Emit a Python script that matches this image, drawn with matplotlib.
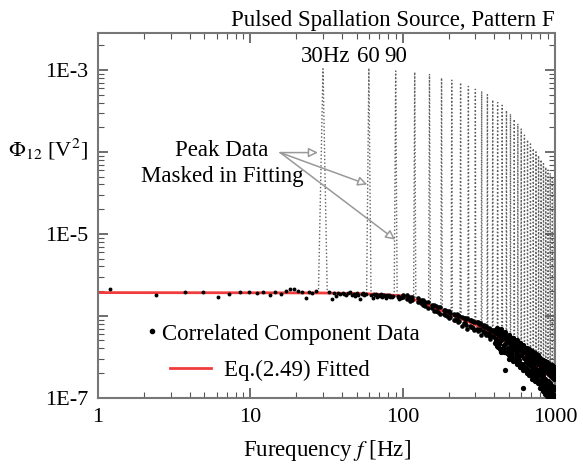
import matplotlib.pyplot as plt
from matplotlib.lines import Line2D

plt.rcParams['font.family'] = ['Liberation Serif', 'DejaVu Serif']
plt.rcParams['mathtext.fontset'] = 'stix'
plt.rcParams['font.size'] = 15

UNIT = 1e-7  # data values below are in units of 1E-7 V^2

# correlated component data, low frequencies
freq_lo = [1.2, 2.4, 3.7, 4.9, 6.1, 7.3, 8.5, 9.8, 11.0, 12.2, 13.4, 14.6, 15.9, 17.1,
           18.3, 19.5, 20.7, 22.0, 23.2, 24.4, 25.6, 26.9]
phi_lo = [21.0, 18.0, 19.8, 19.5, 16.8, 18.6, 19.6, 19.5, 19.2, 19.4, 18.2, 19.5, 18.4, 19.9,
          21.5, 21.2, 20.2, 19.4, 16.6, 19.6, 19.2, 20.0]

freq_ml = [32.9, 34.2, 35.4, 36.6, 37.8, 39.0, 40.3, 41.5, 42.7, 43.9, 45.1, 46.4, 47.6, 48.8,
           50.0, 51.2, 52.5, 53.7, 54.9, 56.1, 57.3, 62.2, 63.4, 64.7, 65.9, 67.1, 68.3, 69.5,
           70.8, 72.0, 73.2, 74.4, 75.6, 76.9, 78.1, 79.3, 80.5, 81.7, 83.0, 84.2, 85.4, 86.6,
           92.7, 93.9, 95.2, 96.4, 97.6, 98.8]
phi_ml = [19.8, 16.2, 18.9, 17.6, 19.2, 18.4, 19.0, 18.6, 17.9, 18.8, 19.3, 18.2, 18.7, 17.4,
          18.9, 18.1, 16.0, 18.5, 18.8, 17.7, 18.3, 17.9, 16.3, 18.4, 17.8, 18.6, 17.2, 18.0,
          17.5, 18.3, 16.9, 17.8, 18.1, 17.4, 16.6, 17.9, 17.3, 17.8, 16.9, 17.5, 17.0, 17.6,
          16.8, 17.4, 16.2, 17.1, 16.7, 17.0]

freq_mid = [101, 106, 111, 116, 126, 131, 136, 141, 146, 156, 161, 166, 171, 176, 186, 191,
            196, 201, 206, 216, 221, 226, 231, 236, 246, 251, 256, 261, 266, 276, 281, 286,
            291, 296, 306, 311, 316, 321, 326, 336, 341, 346, 351, 356, 366, 371, 376, 381,
            386, 396]
phi_mid_a = [16.8, 17.9, 15.2, 16.9, 14.6, 15.8, 13.4, 14.9, 12.6, 13.7, 11.5, 13.2, 12.8, 10.6,
             11.9, 10.2, 11.4, 9.4, 10.9, 8.8, 10.3, 9.1, 8.4, 9.9, 7.6, 9.5, 8.2, 9.2, 6.9, 8.8,
             7.4, 8.6, 7.1, 6.8, 8.3, 6.5, 7.9, 7.0, 5.9, 7.6, 6.4, 7.3, 5.8, 7.2, 6.0, 6.9, 5.2,
             6.6, 5.7, 5.5]
phi_mid_b = [18.0, 15.9, 17.2, 15.4, 16.3, 14.2, 15.5, 13.1, 14.6, 12.4, 13.6, 11.6, 11.1, 12.7,
             10.5, 11.8, 9.9, 11.3, 9.6, 10.6, 9.0, 10.4, 10.1, 8.6, 9.8, 8.1, 9.4, 7.8, 9.3, 7.6,
             8.9, 7.4, 8.7, 8.5, 7.0, 8.4, 6.8, 8.1, 7.9, 6.5, 7.7, 6.1, 7.5, 6.2, 7.2, 5.7, 7.0,
             5.6, 6.8, 6.4]

freq_hi = [404, 408, 412, 416,
           424, 428, 432, 436, 440, 444, 454, 458, 462, 466, 470, 474,
           484, 488, 492, 496, 500, 504, 514, 518, 522, 526, 530, 534,
           544, 548, 552, 556, 560, 564, 574, 578, 582, 586, 590, 594,
           604, 608, 612, 616, 620, 624, 634, 638, 642, 646, 650, 654,
           664, 668, 672, 676, 680, 684, 694, 698, 702, 706, 710, 714,
           724, 728, 732, 736, 740, 744, 754, 758, 762, 766, 770, 774,
           784, 788, 792, 796, 800, 804, 814, 818, 822, 826, 830, 834,
           844, 848, 852, 856, 860, 864, 874, 878, 882, 886, 890, 894,
           904, 908, 912, 916, 920, 924, 934, 938, 942, 946, 950, 954,
           964, 968, 972, 976, 980, 984, 994, 998]
phi_hi_a = [6.8, 4.9, 6.1, 4.3,
            6.4, 4.5, 5.8, 3.9, 6.9, 5.0, 5.9, 4.1, 5.3, 3.6, 6.3, 4.6,
            5.5, 3.7, 4.9, 3.3, 5.8, 4.2, 5.1, 3.4, 4.6, 3.0, 5.4, 3.9,
            4.8, 3.1, 4.3, 2.8, 5.0, 3.6, 4.5, 2.9, 4.0, 2.6, 4.7, 3.3,
            4.3, 2.6, 3.8, 2.4, 4.4, 3.1, 4.0, 2.4, 3.5, 2.2, 4.1, 2.9,
            3.8, 2.2, 3.3, 2.0, 3.9, 2.7, 3.6, 2.1, 3.1, 1.9, 3.7, 2.5,
            3.4, 1.9, 2.9, 1.7, 3.5, 2.3, 3.2, 1.8, 2.8, 1.6, 3.3, 2.2,
            3.0, 1.6, 2.6, 1.5, 3.1, 2.0, 2.8, 1.5, 2.4, 1.4, 2.9, 1.9,
            2.7, 1.4, 2.3, 1.3, 2.8, 1.7, 2.6, 1.3, 2.2, 1.2, 2.7, 1.6,
            2.5, 1.2, 2.1, 1.1, 2.6, 1.5, 2.4, 1.15, 2.0, 1.05, 2.5, 1.4,
            2.3, 1.1, 1.9, 1.0, 2.4, 1.35, 2.2, 1.05]
phi_hi_b = [4.6, 6.5, 5.2, 7.2,
            4.2, 6.1, 4.8, 6.6, 5.5, 3.6, 3.8, 5.6, 4.4, 6.1, 2.2, 5.2,
            3.5, 5.2, 4.0, 5.7, 3.0, 4.7, 3.2, 4.9, 3.7, 5.3, 2.8, 4.4,
            3.0, 4.5, 3.4, 4.9, 2.6, 4.1, 2.7, 4.2, 3.2, 4.6, 2.4, 3.8,
            2.5, 3.9, 1.3, 4.3, 2.2, 3.6, 2.3, 3.7, 2.7, 4.0, 2.0, 3.3,
            2.1, 3.5, 2.5, 3.7, 1.9, 3.1, 2.0, 3.3, 2.4, 3.5, 1.7, 2.9,
            1.8, 3.1, 2.2, 3.3, 1.6, 2.7, 1.7, 2.9, 2.0, 3.1, 1.5, 2.6,
            1.5, 2.7, 1.9, 2.9, 1.3, 2.4, 1.4, 2.6, 1.7, 2.7, 1.2, 2.2,
            1.3, 2.4, 1.6, 2.6, 1.1, 2.1, 1.2, 2.3, 1.5, 2.5, 1.05, 2.0,
            1.15, 2.2, 1.4, 2.4, 0.95, 1.9, 1.1, 2.1, 1.3, 2.3, 0.9, 1.8,
            1.05, 2.0, 1.25, 2.2, 0.85, 1.7, 1.0, 1.9]

# masked peaks at multiples of the 30 Hz pulse rate
peak_hz = [30, 60, 90, 120, 150, 180, 210, 240, 270, 300, 330, 360, 390, 420, 450, 480, 510,
           540, 570, 600, 630, 660, 690, 720, 750, 780, 810, 840, 870, 900, 930, 960, 990]
peak_phi = [1.03e-3, 1.05e-3, 9.7e-4, 9.4e-4, 8.9e-4, 8.0e-4, 7.5e-4, 7.0e-4, 6.3e-4, 5.8e-4,
            5.5e-4, 5.0e-4, 4.3e-4, 4.0e-4, 3.7e-4, 3.2e-4, 2.9e-4, 2.5e-4, 2.2e-4, 1.9e-4,
            1.6e-4, 1.4e-4, 1.25e-4, 1.1e-4, 1.0e-4, 9.0e-5, 8.0e-5, 7.2e-5, 6.5e-5, 6.0e-5,
            5.5e-5, 5.0e-5, 4.6e-5]
peak_base = [19.0, 18.5, 17.5, 16.0, 13.5, 11.5, 10.0, 9.0, 8.4, 7.8, 7.2, 6.6, 6.0, 5.4,
             5.0, 4.6, 4.2, 3.9, 3.7, 3.4, 3.2, 3.0, 2.8, 2.6, 2.5, 2.3, 2.1, 2.0, 1.9, 1.8,
             1.7, 1.6, 1.5]
PEAK_HALF_WIDTH = 2.0  # Hz

# Eq.(2.49) fitted curve
fit_hz = [1, 10, 30, 50, 70, 100, 130, 160, 200, 250, 300, 400, 500, 600, 700, 800, 900, 1000]
fit_phi = [19.2, 19.1, 19.0, 18.7, 18.3, 17.5, 15.0, 12.7, 10.6, 9.0, 7.8, 5.8, 4.5, 3.6,
           2.9, 2.3, 1.9, 1.6]

fig, ax = plt.subplots(figsize=(5.83, 4.68), dpi=100)
fig.subplots_adjust(left=0.168, right=0.952, bottom=0.150, top=0.929)

for f, top, base in zip(peak_hz, peak_phi, peak_base):
    ax.plot([f - PEAK_HALF_WIDTH, f, f + PEAK_HALF_WIDTH], [base * UNIT, top, base * UNIT],
            color='#606060', lw=1.0, linestyle=(0, (1, 1.6)), zorder=1)

ax.plot(fit_hz, [v * UNIT for v in fit_phi], color='#f03c3c', lw=2, zorder=2)

dot_kw = dict(linestyle='none', marker='o', color='black', mew=0, zorder=3)
ax.plot(freq_lo, [v * UNIT for v in phi_lo], ms=2.8, **dot_kw)
ax.plot(freq_ml, [v * UNIT for v in phi_ml], ms=2.8, **dot_kw)
for vals in (phi_mid_a, phi_mid_b):
    ax.plot(freq_mid, [v * UNIT for v in vals], ms=3.3, **dot_kw)
for vals in (phi_hi_a, phi_hi_b):
    ax.plot(freq_hi, [v * UNIT for v in vals], ms=3.8, **dot_kw)

ax.set_xscale('log')
ax.set_yscale('log')
ax.set_xlim(1, 1000)
ax.set_ylim(1e-7, 2.8e-3)
ax.set_xticks([1, 10, 100, 1000])
ax.set_xticklabels(['1', '10', '100', '1000'])
ax.set_yticks([1e-7, 1e-6, 1e-5, 1e-4, 1e-3])
ax.set_yticklabels(['1E-7', '', '1E-5', '', '1E-3'])
ax.tick_params(which='both', direction='in', top=True, right=True, colors='#555555',
               labelcolor='black')
ax.tick_params(which='major', length=7, width=1.2, pad=7, labelsize=16)
ax.tick_params(which='minor', length=4, width=0.8)
for s in ax.spines.values():
    s.set_color('#777777')
    s.set_linewidth(1.5)

ax.set_xlabel('Furequency $f$ [Hz]', labelpad=8, fontsize=16.5)
ax.set_ylabel(r'$\Phi_{12}$ [V$^2$]', rotation=0, ha='center', va='center', fontsize=16)
ax.yaxis.set_label_coords(-0.11, 0.68)
ax.set_title('Pulsed Spallation Source, Pattern F', loc='right', pad=5, fontsize=16.5)

peak_kw = dict(ha='center', va='center', fontsize=16.5)
ax.text(31, 1.45e-3, '30Hz', **peak_kw)
ax.text(60, 1.45e-3, '60', **peak_kw)
ax.text(90, 1.45e-3, '90', **peak_kw)

ax.text(6.5, 1.05e-4, 'Peak Data', ha='center', va='center', fontsize=16.5)
ax.text(6.5, 5.0e-5, 'Masked in Fitting', ha='center', va='center', fontsize=16.5)
arrow_kw = dict(arrowstyle='-|>', lw=1.1, mutation_scale=14, shrinkA=0, shrinkB=0,
                fc='white', ec='#999999')
for tip in [(27.8, 9.8e-5), (58.6, 4.0e-5), (89.3, 8.5e-6)]:
    ax.annotate('', xy=tip, xytext=(15.7, 9.8e-5), arrowprops=arrow_kw)

dot_handle = Line2D([], [], linestyle='none', marker='o', ms=3, color='black')
line_handle = Line2D([], [], color='#f03c3c', lw=2)
leg1 = ax.legend([dot_handle], ['Correlated Component Data'], loc='center left',
                 bbox_to_anchor=(0.105, 0.175), frameon=False, borderpad=0, borderaxespad=0,
                 handlelength=0.55, handletextpad=0.15, fontsize=16.5)
ax.add_artist(leg1)
ax.legend([line_handle], ['Eq.(2.49) Fitted'], loc='center left',
          bbox_to_anchor=(0.158, 0.074), frameon=False, borderpad=0, borderaxespad=0,
          handlelength=1.8, handletextpad=0.55, fontsize=16.5)

plt.savefig('out.png', dpi=100)
